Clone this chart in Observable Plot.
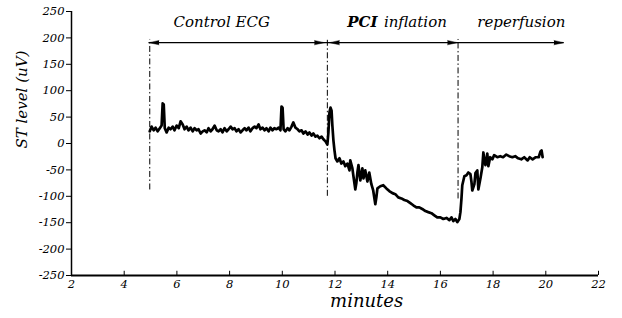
<!DOCTYPE html>
<html>
<head>
<meta charset="utf-8">
<script src="https://cdn.jsdelivr.net/npm/d3@7"></script>
<script src="https://cdn.jsdelivr.net/npm/@observablehq/plot@0.6"></script>
<style>
  html, body { margin: 0; padding: 0; background: white; }
  #chart svg text { font-family: 'DejaVu Serif', serif; font-style: italic; }
</style>
</head>
<body>
<div id="chart"></div>
<script>
// ST level trace (minutes, µV)
const minutes = [4.97,5.04,5.12,5.19,5.27,5.35,5.42,5.46,5.50,5.54,5.61,5.69,5.76,5.84,5.91,5.99,6.07,6.14,6.22,6.29,6.37,6.44,6.52,6.60,6.67,6.75,6.82,6.90,6.98,7.05,7.13,7.20,7.28,7.35,7.43,7.51,7.58,7.66,7.73,7.81,7.89,7.96,8.04,8.11,8.19,8.26,8.34,8.42,8.49,8.57,8.64,8.72,8.79,8.87,8.95,9.02,9.10,9.17,9.25,9.33,9.40,9.48,9.55,9.63,9.70,9.78,9.86,9.93,9.97,10.01,10.05,10.12,10.20,10.27,10.35,10.42,10.50,10.58,10.65,10.73,10.80,10.88,10.96,11.03,11.11,11.18,11.26,11.33,11.41,11.49,11.56,11.64,11.71,11.75,11.79,11.83,11.87,11.90,11.94,11.98,12.02,12.09,12.17,12.24,12.32,12.39,12.47,12.55,12.58,12.66,12.70,12.77,12.81,12.85,12.89,12.96,13.04,13.08,13.15,13.23,13.30,13.38,13.45,13.53,13.57,13.61,13.72,13.83,13.95,14.06,14.18,14.29,14.40,14.52,14.63,14.75,14.86,14.97,15.09,15.20,15.31,15.43,15.54,15.66,15.77,15.88,16.00,16.11,16.23,16.34,16.42,16.49,16.57,16.64,16.72,16.76,16.80,16.83,16.91,16.99,17.06,17.14,17.18,17.21,17.29,17.33,17.40,17.44,17.52,17.59,17.63,17.67,17.71,17.78,17.82,17.89,17.97,18.04,18.16,18.27,18.38,18.50,18.61,18.73,18.84,18.95,19.07,19.18,19.31,19.39,19.50,19.62,19.73,19.80,19.84,19.88];
const stLevel = [23,32,25,30,23,29,34,76,74,29,21,30,27,32,25,34,29,42,36,27,32,25,30,23,29,25,27,19,23,25,21,29,23,27,34,25,23,27,21,29,23,27,32,27,29,23,27,21,25,29,25,30,23,29,32,29,36,27,30,25,29,23,30,25,29,27,30,25,70,68,27,23,29,25,32,40,30,27,23,25,19,23,17,21,15,19,13,15,10,13,8,4,-2,21,59,68,62,34,6,-13,-28,-34,-28,-38,-34,-43,-38,-51,-32,-47,-62,-87,-75,-55,-41,-70,-47,-66,-51,-72,-55,-77,-89,-115,-102,-85,-81,-79,-85,-90,-94,-96,-102,-104,-107,-109,-113,-117,-121,-121,-124,-128,-130,-132,-136,-140,-140,-143,-141,-145,-140,-147,-143,-149,-143,-130,-104,-79,-62,-60,-55,-58,-73,-89,-77,-56,-51,-87,-66,-45,-17,-32,-41,-19,-43,-26,-30,-22,-26,-24,-26,-21,-24,-26,-24,-28,-30,-26,-32,-26,-30,-26,-26,-15,-13,-26];

// axis ticks
const xTicks = [2, 4, 6, 8, 10, 12, 14, 16, 18, 20, 22];
const yTicks = [-250, -200, -150, -100, -50, 0, 50, 100, 150, 200, 250];

// phase annotations
const phaseBoundaries = [4.97, 11.71, 16.67];
const boundaryBottoms = [-88, -100, -105];
const arrowTips = [4.94, 11.60, 11.79, 16.65, 20.69];
const arrowDirections = [-90, 90, -90, 90, 90];
const phaseLabels = ["Control ECG", "inflation", "reperfusion"];
const phaseLabelMinutes = [7.70, 15.05, 19.07];
const boldLabel = "PCI";
const boldLabelMinute = 13.04;

const trace = minutes.map((m, i) => ({minutes: m, st: stLevel[i]}));
const bounds = phaseBoundaries.map((m, i) => ({m, bottom: boundaryBottoms[i]}));
const heads = arrowTips.map((m, i) => ({m, dir: arrowDirections[i]}));
const labels = phaseLabels.map((t, i) => ({t, m: phaseLabelMinutes[i]}));

const arrowLevel = 191;
const topLevel = 197;
const labelLevel = 229;

const chart = Plot.plot({
  width: 622,
  height: 318,
  marginLeft: 71,
  marginRight: 24,
  marginTop: 11,
  marginBottom: 43,
  style: {background: "white", fontSize: "11.5px", color: "black"},
  x: {domain: [2, 22]},
  y: {domain: [-250, 250]},
  marks: [
    Plot.axisY({ticks: yTicks, tickSize: 5, tickPadding: 2, tickFormat: d => String(d), label: null}),
    Plot.axisX({ticks: xTicks, tickSize: 0, tickPadding: 4, tickFormat: d => String(d), label: null}),
    Plot.ruleX(xTicks.slice(1), {x: d => d, y1: -250, y2: -242, strokeWidth: 1}),
    Plot.ruleX([2], {x: d => d, y1: -250, y2: 250, strokeWidth: 1.5}),
    Plot.ruleY([-250], {y: d => d, x1: 2, x2: 22, strokeWidth: 2}),
    // phase boundaries
    Plot.ruleX(bounds, {x: "m", y1: "bottom", y2: () => topLevel, strokeWidth: 1, strokeDasharray: "6,2.5,1.5,2.5"}),
    // horizontal arrow line
    Plot.ruleY([arrowLevel], {y: d => d, x1: arrowTips[0], x2: arrowTips[arrowTips.length - 1], strokeWidth: 1.2}),
    Plot.vector(heads, {x: "m", y: () => arrowLevel, rotate: "dir", length: 10, r: 2.2, shape: "spike", anchor: "end", fill: "black", stroke: "black", strokeWidth: 0.4}),
    // phase labels
    Plot.text(labels, {x: "m", y: () => labelLevel, text: "t", fontSize: 15, fill: "black"}),
    Plot.text([boldLabel], {x: () => boldLabelMinute, y: () => labelLevel, text: d => d, fontSize: 15, fontWeight: "bold", fill: "black"}),
    // trace
    Plot.line(trace, {x: "minutes", y: "st", stroke: "black", strokeWidth: 2.7, strokeLinejoin: "round", strokeLinecap: "round"}),
    // axis titles
    Plot.text(["ST level (uV)"], {frameAnchor: "left", text: d => d, rotate: -90, dx: -49, dy: 5, fontSize: 15, fill: "black"}),
    Plot.text(["minutes"], {frameAnchor: "bottom", x: () => 13.2, text: d => d, dy: 31, fontSize: 18, fill: "black"})
  ]
});
document.getElementById("chart").append(chart);
</script>
</body>
</html>
